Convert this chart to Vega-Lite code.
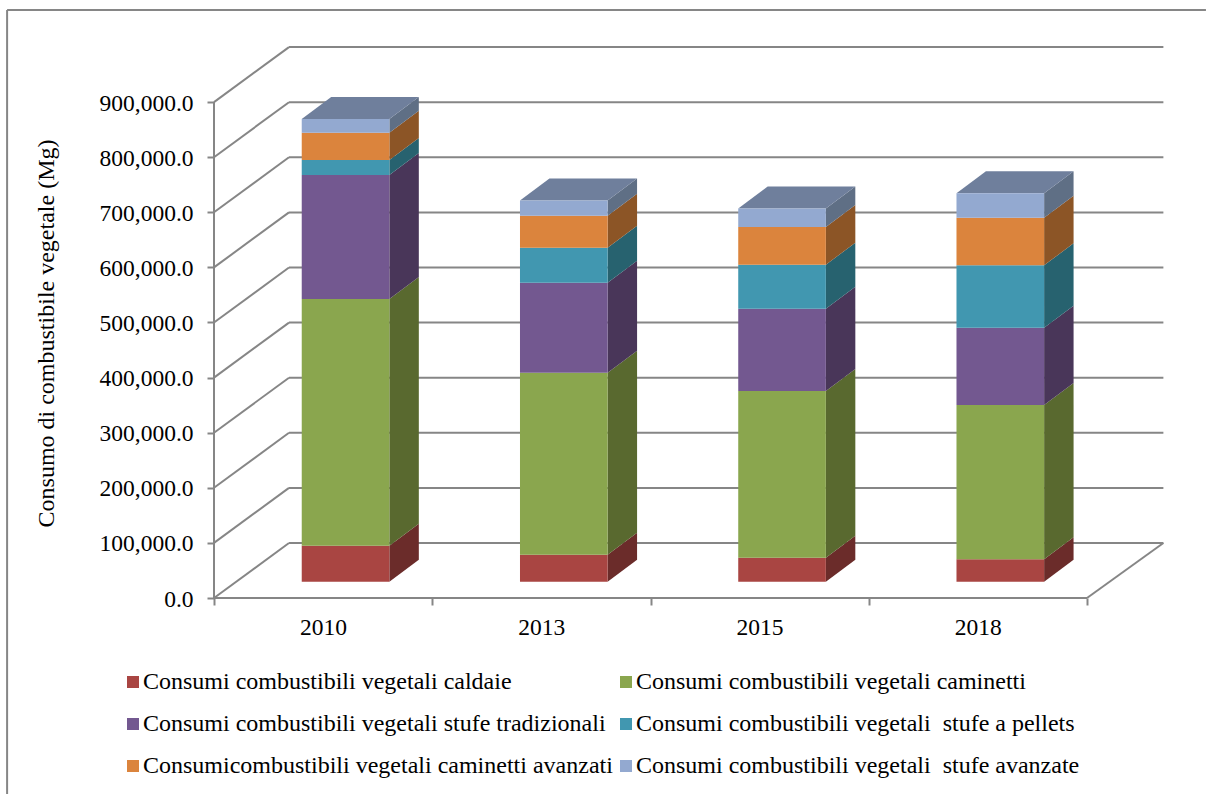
{
"$schema":"https://vega.github.io/schema/vega-lite/v6.json",
"width":950,"height":552,
"autosize":"none",
"padding":{"left":214,"top":46,"right":42,"bottom":196},
"background":"white",
"config":{"view":{"stroke":null},"font":"Liberation Serif"},
"datasets":{
"segmenti":[
{"anno":"2010","ordine":1,"serie":"Consumi combustibili vegetali caldaie","valore":65300},
{"anno":"2010","ordine":2,"serie":"Consumi combustibili vegetali caminetti","valore":447700},
{"anno":"2010","ordine":3,"serie":"Consumi combustibili vegetali stufe tradizionali","valore":225000},
{"anno":"2010","ordine":4,"serie":"Consumi combustibili vegetali  stufe a pellets","valore":27200},
{"anno":"2010","ordine":5,"serie":"Consumicombustibili vegetali caminetti avanzati","valore":49500},
{"anno":"2010","ordine":6,"serie":"Consumi combustibili vegetali  stufe avanzate","valore":24900},
{"anno":"2013","ordine":1,"serie":"Consumi combustibili vegetali caldaie","valore":49000},
{"anno":"2013","ordine":2,"serie":"Consumi combustibili vegetali caminetti","valore":330300},
{"anno":"2013","ordine":3,"serie":"Consumi combustibili vegetali stufe tradizionali","valore":163300},
{"anno":"2013","ordine":4,"serie":"Consumi combustibili vegetali  stufe a pellets","valore":63500},
{"anno":"2013","ordine":5,"serie":"Consumicombustibili vegetali caminetti avanzati","valore":58100},
{"anno":"2013","ordine":6,"serie":"Consumi combustibili vegetali  stufe avanzate","valore":27800},
{"anno":"2015","ordine":1,"serie":"Consumi combustibili vegetali caldaie","valore":43500},
{"anno":"2015","ordine":2,"serie":"Consumi combustibili vegetali caminetti","valore":302500},
{"anno":"2015","ordine":3,"serie":"Consumi combustibili vegetali stufe tradizionali","valore":149400},
{"anno":"2015","ordine":4,"serie":"Consumi combustibili vegetali  stufe a pellets","valore":79900},
{"anno":"2015","ordine":5,"serie":"Consumicombustibili vegetali caminetti avanzati","valore":68400},
{"anno":"2015","ordine":6,"serie":"Consumi combustibili vegetali  stufe avanzate","valore":33800},
{"anno":"2018","ordine":1,"serie":"Consumi combustibili vegetali caldaie","valore":40700},
{"anno":"2018","ordine":2,"serie":"Consumi combustibili vegetali caminetti","valore":280000},
{"anno":"2018","ordine":3,"serie":"Consumi combustibili vegetali stufe tradizionali","valore":140300},
{"anno":"2018","ordine":4,"serie":"Consumi combustibili vegetali  stufe a pellets","valore":113200},
{"anno":"2018","ordine":5,"serie":"Consumicombustibili vegetali caminetti avanzati","valore":86400},
{"anno":"2018","ordine":6,"serie":"Consumi combustibili vegetali  stufe avanzate","valore":44300}
],
"griglia":[{"livello":0},{"livello":100000},{"livello":200000},{"livello":300000},{"livello":400000},{"livello":500000},{"livello":600000},{"livello":700000},{"livello":800000},{"livello":900000}]
},
"layer":[
{"data":{"values":[{}]},
 "mark":{"type":"rule","color":"#868686","strokeWidth":2},
 "encoding":{
  "x":{"datum":-0.948,"type":"quantitative","scale":{"domain":[0,4.3528],"nice":false,"zero":false},
   "axis":{"title":null,"grid":false,"domain":false,"values":[0,1,2,3,4],"labelOffset":109,"labelExpr":"['2010','2013','2015','2018',''][datum.value]","tickColor":"#868686","tickWidth":2,"tickSize":7,"labelFontSize":23.5,"labelColor":"#000000","labelFont":"Liberation Serif","labelPadding":10,"labelFlush":false,"labelOverlap":false,"labelBound":false}},
  "y":{"datum":-355700,"type":"quantitative","scale":{"domain":[0,1001800],"nice":false,"zero":false},
   "axis":{"title":"Consumo di combustibile vegetale (Mg)","titleFontSize":24,"titleFontWeight":"normal","titleFont":"Liberation Serif","titleColor":"#000000","titleX":-156,"titleY":287,"titleAngle":-90,"grid":false,"domain":false,"values":[0,100000,200000,300000,400000,500000,600000,700000,800000,900000],"format":",.1f","tickColor":"#868686","tickWidth":2,"tickSize":7,"labelFontSize":23.5,"labelColor":"#000000","labelFont":"Liberation Serif","labelPadding":14,"labelOffset":1,"labelOverlap":false,"labelBound":false}},
  "y2":{"datum":1067000}
 }},
{"data":{"values":[{}]},
 "mark":{"type":"rule","color":"#868686","strokeWidth":2},
 "encoding":{
  "x":{"datum":-0.948,"type":"quantitative"},
  "x2":{"datum":4.545},
  "y":{"datum":1067000,"type":"quantitative"}
 }},
{"data":{"name":"griglia"},
 "transform":[{"calculate":"0","as":"xa"},{"calculate":"0.3436","as":"xb"},{"calculate":"datum.livello+99800","as":"yb"}],
 "mark":{"type":"rule","color":"#868686","strokeWidth":2},
 "encoding":{
  "x":{"field":"xa","type":"quantitative"},"x2":{"field":"xb"},
  "y":{"field":"livello","type":"quantitative"},"y2":{"field":"yb"}
 }},
{"data":{"name":"griglia"},
 "transform":[{"calculate":"0.3436","as":"xb"},{"calculate":"4.35","as":"xc"},{"calculate":"datum.livello+99800","as":"yb"}],
 "mark":{"type":"rule","color":"#868686","strokeWidth":2},
 "encoding":{
  "x":{"field":"xb","type":"quantitative"},"x2":{"field":"xc"},
  "y":{"field":"yb","type":"quantitative"}
 }},
{"data":{"values":[{}]},
 "mark":{"type":"rule","color":"#868686","strokeWidth":2},
 "encoding":{"x":{"datum":0,"type":"quantitative"},"y":{"datum":0,"type":"quantitative"},"y2":{"datum":900000}}},
{"data":{"values":[{}]},
 "mark":{"type":"rule","color":"#868686","strokeWidth":2},
 "encoding":{"x":{"datum":0,"type":"quantitative"},"x2":{"datum":4},"y":{"datum":0,"type":"quantitative"}}},
{"data":{"values":[{}]},
 "mark":{"type":"rule","color":"#868686","strokeWidth":2},
 "encoding":{"x":{"datum":4,"type":"quantitative"},"x2":{"datum":4.35},"y":{"datum":0,"type":"quantitative"},"y2":{"datum":99800}}},
{"data":{"name":"segmenti"},
 "transform":[
  {"calculate":"indexof(['2010','2013','2015','2018'],datum.anno)","as":"idx"},
  {"stack":"valore","groupby":["anno"],"sort":[{"field":"ordine","order":"ascending"}],"as":["v0","v1"]},
  {"calculate":"[0,1]","as":"t"},{"flatten":["t"]},
  {"calculate":"datum.idx+0.8035+0.135*datum.t","as":"sx"},
  {"calculate":"datum.v0+29600+39900*datum.t","as":"sy0"},
  {"calculate":"datum.v1+29600+39900*datum.t","as":"sy1"}
 ],
 "mark":{"type":"area","interpolate":"linear"},
 "encoding":{
  "x":{"field":"sx","type":"quantitative"},
  "y":{"field":"sy0","type":"quantitative"},"y2":{"field":"sy1"},
  "detail":{"field":"anno"},
  "color":{"field":"serie","type":"nominal","legend":null,"sort":null,
   "scale":{"domain":["Consumi combustibili vegetali caldaie","Consumi combustibili vegetali caminetti","Consumi combustibili vegetali stufe tradizionali","Consumi combustibili vegetali  stufe a pellets","Consumicombustibili vegetali caminetti avanzati","Consumi combustibili vegetali  stufe avanzate"],"range":["#6B2C2A","#59692F","#493659","#27626F","#8C5526","#5F6F85"]}}
 }},
{"data":{"name":"segmenti"},
 "transform":[
  {"calculate":"indexof(['2010','2013','2015','2018'],datum.anno)","as":"idx"},
  {"stack":"valore","groupby":["anno"],"sort":[{"field":"ordine","order":"ascending"}],"as":["v0","v1"]},
  {"filter":"datum.ordine==6"},
  {"calculate":"[0,1]","as":"t"},{"flatten":["t"]},
  {"calculate":"datum.idx+0.402+0.135*datum.t","as":"tx0"},
  {"calculate":"datum.idx+0.8035+0.135*datum.t","as":"tx1"},
  {"calculate":"datum.v1+29600+39900*datum.t","as":"ty"}
 ],
 "mark":{"type":"area","orient":"horizontal","color":"#6F7F9C","interpolate":"linear"},
 "encoding":{
  "y":{"field":"ty","type":"quantitative"},
  "x":{"field":"tx0","type":"quantitative"},"x2":{"field":"tx1"},
  "detail":{"field":"anno"}
 }},
{"data":{"name":"segmenti"},
 "transform":[
  {"calculate":"indexof(['2010','2013','2015','2018'],datum.anno)","as":"idx"},
  {"stack":"valore","groupby":["anno"],"sort":[{"field":"ordine","order":"ascending"}],"as":["v0","v1"]},
  {"calculate":"datum.idx+0.402","as":"fx0"},
  {"calculate":"datum.idx+0.8035","as":"fx1"},
  {"calculate":"datum.v0+29600","as":"fy0"},
  {"calculate":"datum.v1+29600","as":"fy1"}
 ],
 "mark":{"type":"rect"},
 "encoding":{
  "x":{"field":"fx0","type":"quantitative"},"x2":{"field":"fx1"},
  "y":{"field":"fy0","type":"quantitative"},"y2":{"field":"fy1"},
  "color":{"field":"serie","type":"nominal","sort":null,
   "scale":{"domain":["Consumi combustibili vegetali caldaie","Consumi combustibili vegetali caminetti","Consumi combustibili vegetali stufe tradizionali","Consumi combustibili vegetali  stufe a pellets","Consumicombustibili vegetali caminetti avanzati","Consumi combustibili vegetali  stufe avanzate"],"range":["#A94542","#8AA64E","#735890","#4197B0","#DB843D","#93A9D0"]},
   "legend":{"orient":"none","direction":"horizontal","legendX":-93,"legendY":624,"columns":2,"title":null,"symbolType":"square","symbolSize":144,"symbolStrokeWidth":0,"labelFontSize":24,"labelFont":"Liberation Serif","labelColor":"#000000","labelOffset":-2,"labelLimit":600,"rowPadding":18,"columnPadding":1,"padding":0,"gridAlign":"each","labelExpr":"replace(datum.label,'  ','\u00a0 ')"}}
 }}
],
"resolve":{"scale":{"color":"independent"}}
}
